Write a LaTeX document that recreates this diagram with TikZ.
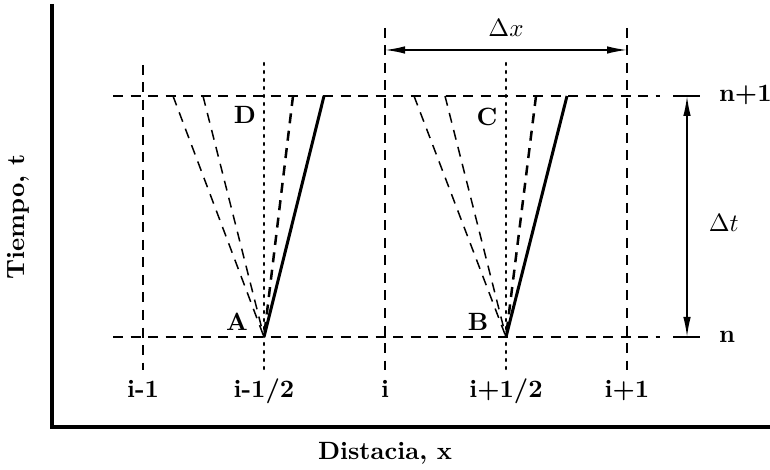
\documentclass[tikz,border=0pt]{standalone}
\usepackage{amsmath}
\usetikzlibrary{arrows.meta}

\begin{document}
\begin{tikzpicture}[
    x=0.4pt, y=-0.4pt,
    gridline/.style={line width=0.6pt, dash pattern=on 4pt off 3pt},
    midline/.style={line width=0.9pt, dash pattern=on 0.8pt off 2.4pt, line cap=round},
    wave/.style={line width=0.6pt, dash pattern=on 4pt off 3pt},
    wavebold/.style={line width=1pt, dash pattern=on 4pt off 3pt},
    wavesolid/.style={line width=1.2pt},
    axis/.style={line width=1.3pt},
    dim/.style={{Latex[length=8pt,width=3pt]}-{Latex[length=8pt,width=3pt]}, line width=0.6pt},
    lbl/.style={font=\bfseries, inner sep=1pt}
]
\useasboundingbox (0,0) rectangle (770,470);

% Ejes
\coordinate (top) at (52,4);
\coordinate (O) at (52,427);
\coordinate (right) at (770,427);
\draw[axis] (top) -- (O) -- (right);
\node[lbl] (xlabel) at (385,453) {Distacia, x};
\node[lbl, rotate=90] (ylabel) at (18,217) {Tiempo, t};

% Malla: lineas verticales
\coordinate (im1t) at (143,65);  \coordinate (im1b) at (143,370);
\coordinate (imht) at (264,63);  \coordinate (imhb) at (264,372);
\coordinate (it)   at (385,28);  \coordinate (ib)   at (385,370);
\coordinate (ipht) at (506,63);  \coordinate (iphb) at (506,372);
\coordinate (ip1t) at (627,28);  \coordinate (ip1b) at (627,370);
\draw[gridline] (im1t) -- (im1b);
\draw[gridline] (it) -- (ib);
\draw[gridline] (ip1t) -- (ip1b);
\draw[midline] (imht) -- (imhb);
\draw[midline] (ipht) -- (iphb);

% Malla: lineas horizontales
\coordinate (n1l) at (113,96);  \coordinate (n1r) at (660,96);
\coordinate (n0l) at (113,337); \coordinate (n0r) at (660,337);
\draw[gridline] (n1l) -- (n1r);
\draw[gridline] (n0l) -- (n0r);

% Etiquetas de la malla
\node[lbl, anchor=base] (lim1) at (143,398) {i-1};
\node[lbl, anchor=base] (limh) at (264,398) {i-1/2};
\node[lbl, anchor=base] (li)   at (385,398) {i};
\node[lbl, anchor=base] (liph) at (506,398) {i+1/2};
\node[lbl, anchor=base] (lip1) at (627,398) {i+1};
\node[lbl, anchor=west] (ln1) at (716,95) {n+1};
\node[lbl, anchor=west] (ln0) at (716,337) {n};

% Cota Delta x
\coordinate (dxl) at (385,50);
\coordinate (dxr) at (627,50);
\draw[dim] (dxl) -- (dxr);
\node (dx) at (506,28) {$\Delta x$};

% Cota Delta t
\coordinate (dtt) at (687,96);
\coordinate (dtb) at (687,337);
\draw[line width=0.6pt] (673,96) -- (700,96);
\draw[line width=0.6pt] (673,337) -- (700,337);
\draw[dim] (dtt) -- (dtb);
\node[anchor=west] (dt) at (700,223) {$\Delta t$};

% Caracteristicas desde A
\coordinate (A) at (264,337);
\coordinate (a1) at (173,96);
\coordinate (a2) at (203,96);
\coordinate (a3) at (293,96);
\coordinate (a4) at (324,96);
\draw[wave] (a1) -- (A);
\draw[wave] (a2) -- (A);
\draw[wavebold] (a3) -- (A);
\draw[wavesolid] (a4) -- (A);

% Caracteristicas desde B
\coordinate (B) at (506,337);
\coordinate (b1) at (414,96);
\coordinate (b2) at (445,96);
\coordinate (b3) at (536,96);
\coordinate (b4) at (567,96);
\draw[wave] (b1) -- (B);
\draw[wave] (b2) -- (B);
\draw[wavebold] (b3) -- (B);
\draw[wavesolid] (b4) -- (B);

% Puntos
\node[lbl] (lA) at (237,322) {A};
\node[lbl] (lB) at (478,322) {B};
\node[lbl] (lC) at (487,117) {C};
\node[lbl] (lD) at (245,115) {D};

\end{tikzpicture}
\end{document}
